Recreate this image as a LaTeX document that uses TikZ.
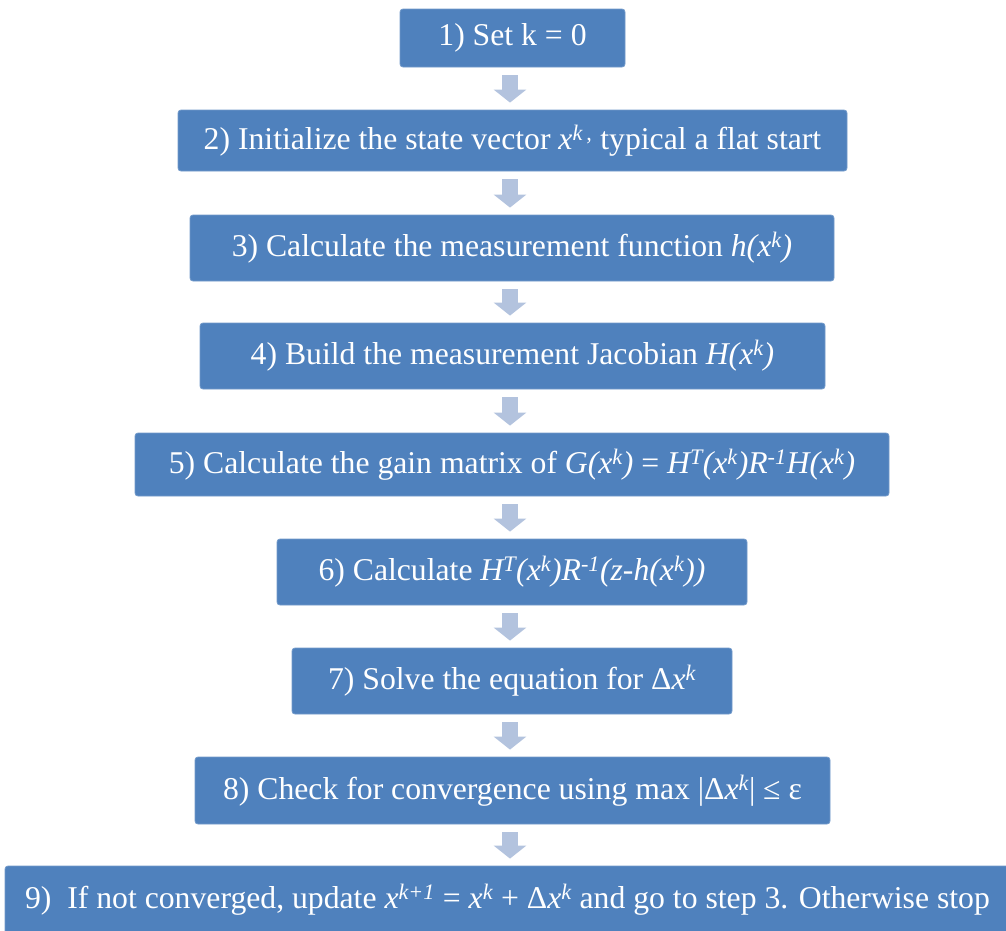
\documentclass[tikz,border=0pt]{standalone}
\usepackage{fontspec}
\setmainfont{Liberation Serif}
\usetikzlibrary{arrows.meta}
\definecolor{boxc}{HTML}{4F81BD}
\definecolor{arrc}{HTML}{B3C3DE}
\newcommand{\sy}[1]{\textsuperscript{#1}}
\tikzset{
  stepbox/.style={fill=boxc, draw=boxc!80!white, line width=0.8pt, rounded corners=3pt, text=white, inner sep=0pt, align=center,
    font=\fontsize{31.7}{36}\selectfont},
  flow/.style={draw=arrc, line width=16pt, -{Triangle[width=32pt,length=13pt]}}
}
\begin{document}
\begin{tikzpicture}[x=1pt,y=-1pt]
\useasboundingbox (0,0) rectangle (1006,930);
\coordinate (ax) at (510,0);
\node[stepbox, minimum width=225pt, minimum height=58pt] (b1) at (512.5,38) {1) Set k = 0};
\node[stepbox, minimum width=669pt, minimum height=61pt] (b2) at (512.5,140.5) {2) Initialize the state vector \textit{x}\sy{\textit{k}\,,} typical a flat start};
\node[stepbox, minimum width=644pt, minimum height=66pt] (b3) at (512,248) {3) Calculate the measurement function \textit{h(x\sy{k})}};
\node[stepbox, minimum width=625pt, minimum height=66pt] (b4) at (512.5,356) {4) Build the measurement Jacobian \textit{H(x\sy{k})}};
\node[stepbox, minimum width=754pt, minimum height=63pt] (b5) at (512,464.5) {5) Calculate the gain matrix of \textit{G(x\sy{k})} = \textit{H\sy{T}(x\sy{k})R\sy{-1}H(x\sy{k})}};
\node[stepbox, minimum width=470pt, minimum height=66pt] (b6) at (512,572) {6) Calculate \textit{H\sy{T}(x\sy{k})R\sy{-1}(z-h(x\sy{k}))}};
\node[stepbox, minimum width=440pt, minimum height=66pt] (b7) at (512,681) {7) Solve the equation for Δ\textit{x\sy{k}}};
\node[stepbox, minimum width=635pt, minimum height=67pt] (b8) at (512.5,790.5) {8) Check for convergence using max |Δ\textit{x\sy{k}}| ≤ ε};
\node[stepbox, minimum width=1005pt, minimum height=68pt] (b9) at (507.5,900) {9)\ \ If not converged, update \textit{x\sy{k+1}} = \textit{x\sy{k}} + Δ\textit{x\sy{k}} and go to step 3. Otherwise stop};
\foreach \a/\b in {b1/b2,b2/b3,b3/b4,b4/b5,b5/b6,b6/b7,b7/b8,b8/b9}{
  \path ([yshift=-8pt]\a.south) coordinate (s) ([yshift=7pt]\b.north) coordinate (e);
  \draw[flow] (s -| ax) -- (e -| ax);
}
\end{tikzpicture}
\end{document}
